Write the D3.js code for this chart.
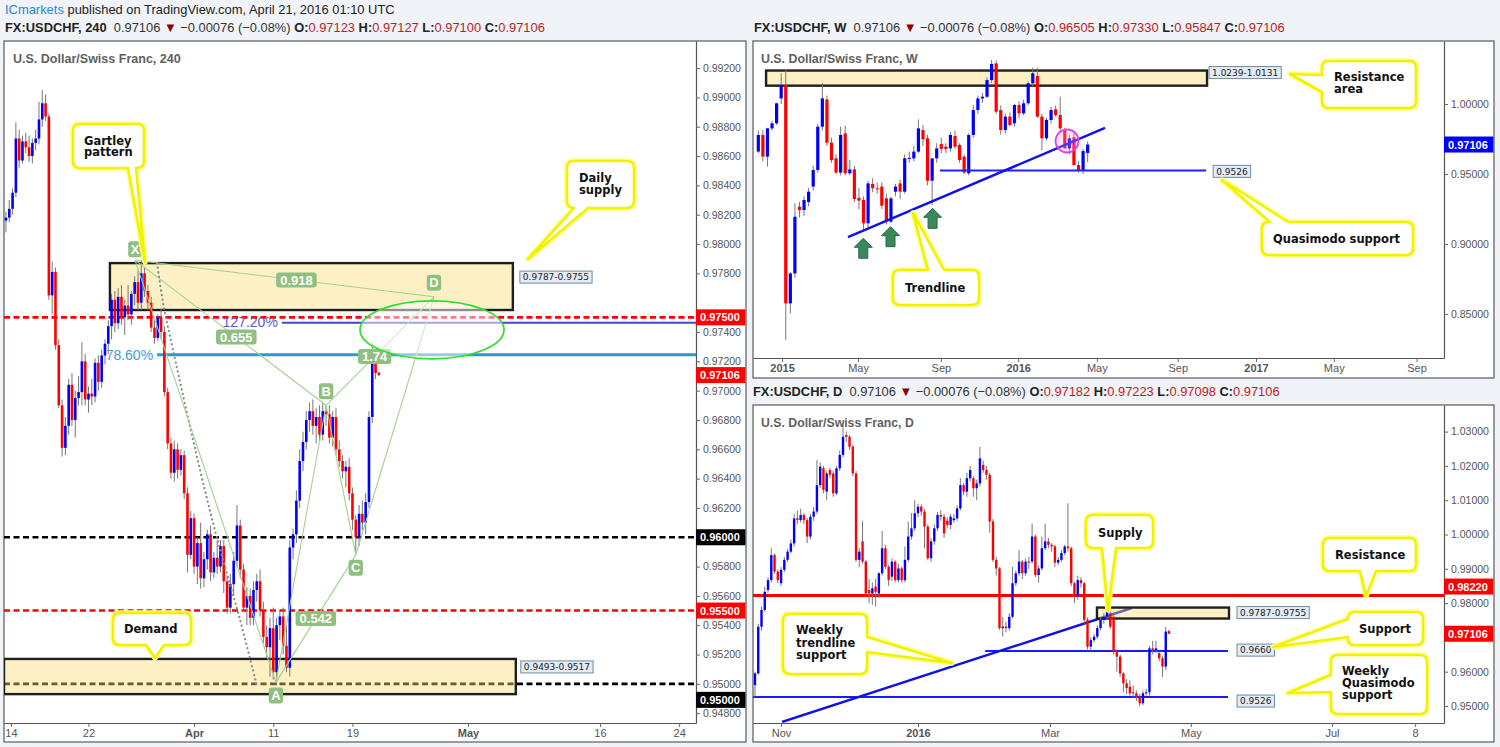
<!DOCTYPE html>
<html><head><meta charset="utf-8">
<script src="https://cdn.jsdelivr.net/npm/d3@7/dist/d3.min.js"></script>
<style>
html,body{margin:0;padding:0;background:#f0f3f7;}
svg{display:block;}
</style></head>
<body><svg id="chart" width="1500" height="747"></svg>
<script>
// ================= DATA =================
// 4H candles [open, high, low, close]
const h4Candles = [
[.9816,.9822,.9808,.9818],[.9818,.9830,.9815,.9824],[.9824,.9838,.9820,.9835],[.9835,.9883,.9832,.9872],
[.9872,.9878,.9852,.9857],[.9857,.9874,.9855,.9870],[.9870,.9876,.9862,.9866],[.9866,.9874,.9856,.9860],
[.9860,.9872,.9855,.9869],[.9869,.9878,.9864,.9872],[.9872,.9897,.9868,.9885],[.9885,.9905,.9880,.9896],
[.9896,.9902,.9884,.9887],[.9887,.9889,.9762,.9765],[.9765,.9788,.9752,.9781],[.9781,.9784,.9728,.9731],
[.9731,.9735,.9688,.9690],[.9690,.9694,.9655,.9661],[.9661,.9682,.9656,.9676],[.9676,.9708,.9670,.9704],
[.9704,.9712,.9676,.9680],[.9680,.9700,.9668,.9695],[.9695,.9710,.9690,.9699],[.9699,.9733,.9690,.9720],
[.9720,.9725,.9690,.9694],[.9694,.9703,.9685,.9698],[.9698,.9708,.9690,.9696],[.9696,.9722,.9692,.9719],
[.9719,.9724,.9700,.9706],[.9706,.9728,.9702,.9724],[.9724,.9735,.9718,.9732],[.9732,.9748,.9725,.9744],
[.9744,.9766,.9735,.9762],[.9762,.9768,.9740,.9746],[.9746,.9770,.9742,.9764],[.9764,.9772,.9745,.9750],
[.9750,.9762,.9738,.9758],[.9758,.9772,.9748,.9752],[.9752,.9768,.9745,.9766],[.9766,.9778,.9758,.9774],
[.9774,.9782,.9755,.9760],[.9760,.9789,.9755,.9780],[.9780,.9784,.9764,.9768],[.9768,.9772,.9755,.9760],
[.9760,.9764,.9740,.9743],[.9743,.9748,.9732,.9736],[.9736,.9752,.9734,.9750],[.9750,.9756,.9735,.9740],
[.9740,.9744,.9696,.9699],[.9699,.9702,.9660,.9664],[.9664,.9668,.9640,.9644],[.9644,.9666,.9638,.9660],
[.9660,.9664,.9640,.9646],[.9646,.9660,.9642,.9656],[.9656,.9659,.9626,.9630],[.9630,.9634,.9576,.9588],
[.9588,.9618,.9585,.9613],[.9613,.9616,.9575,.9580],[.9580,.9600,.9568,.9596],[.9596,.9610,.9565,.9572],
[.9572,.9590,.9566,.9585],[.9585,.9605,.9578,.9602],[.9602,.9608,.9570,.9576],[.9576,.9590,.9572,.9586],
[.9586,.9598,.9575,.9580],[.9580,.9598,.9576,.9594],[.9594,.9598,.9562,.9570],[.9570,.9574,.9548,.9552],
[.9552,.9575,.9548,.9568],[.9568,.9590,.9560,.9584],[.9584,.9622,.9580,.9608],[.9608,.9612,.9572,.9578],
[.9578,.9582,.9550,.9552],[.9552,.9566,.9540,.9560],[.9560,.9565,.9540,.9545],[.9545,.9570,.9540,.9564],
[.9564,.9575,.9556,.9570],[.9570,.9578,.9546,.9550],[.9550,.9556,.9528,.9532],[.9532,.9540,.9518,.9525],
[.9525,.9545,.9505,.9538],[.9538,.9552,.9503,.9508],[.9508,.9545,.9499,.9540],[.9540,.9550,.9530,.9546],
[.9546,.9552,.9520,.9526],[.9526,.9540,.9508,.9511],[.9511,.9598,.9505,.9593],[.9593,.9606,.9585,.9602],
[.9602,.9632,.9596,.9625],[.9625,.9660,.9620,.9652],[.9652,.9672,.9645,.9665],[.9665,.9686,.9660,.9680],
[.9680,.9692,.9672,.9686],[.9686,.9694,.9670,.9676],[.9676,.9688,.9664,.9682],[.9682,.9690,.9666,.9670],
[.9670,.9692,.9666,.9686],[.9686,.9690,.9676,.9684],[.9684,.9690,.9664,.9668],[.9668,.9686,.9662,.9682],
[.9682,.9688,.9656,.9660],[.9660,.9666,.9648,.9652],[.9652,.9656,.9640,.9645],[.9645,.9652,.9634,.9648],
[.9648,.9654,.9625,.9630],[.9630,.9634,.9605,.9612],[.9612,.9615,.9590,.9600],[.9600,.9622,.9594,.9616],
[.9616,.9625,.9605,.9610],[.9610,.9630,.9602,.9624],[.9624,.9686,.9620,.9682],[.9682,.9733,.9678,.9720],
[.9720,.9723,.9708,.9712],[.97123,.97127,.97100,.97106]
];
const h4XTickIdx = [1.5, 25, 57, 81, 105, 140, 180, 204];
const h4XTickLabels = ["14","22","Apr","11","19","May","16","24"];
const h4XTickBold = [0,0,1,0,0,1,0,0];
const h4YTicks = [0.992,0.990,0.988,0.986,0.984,0.982,0.980,0.978,0.974,0.972,0.970,0.968,0.966,0.964,0.962,0.958,0.956,0.954,0.952,0.950,0.948];
const h4RedLevels = [0.975, 0.955];
const h4BlackLevels = [0.960, 0.950];
const h4Supply = [0.9787, 0.9755], h4SupplyIdx = [31.5, 153.6];
const h4Demand = [0.9517, 0.9493], h4DemandIdx = [-0.6, 154.5];
const h4Fib1272 = 0.97463, h4Fib1272Idx = 83.6;
const h4Fib786 = 0.97245, h4Fib786Idx = 45.8;
const h4PatternNames = ["X","A","B","C","D"];
const h4PatternIdx = [39.1, 81.8, 97.0, 106.0, 129.7];
const h4PatternPrice = [0.9789, 0.9501, 0.9690, 0.9588, 0.9764];
const h4RatioLabels = ["0.655","0.918","1.74","0.542"];
const h4DottedIdx = [45.8, 47.6, 50.6, 58.8, 63.9, 70.9, 76.1];
const h4DottedPrice = [0.9787, 0.9760, 0.9728, 0.9646, 0.9600, 0.9544, 0.9498];
const h4EllipseIdx = 129.1, h4EllipsePrice = 0.97415;
const h4Badges = [[0.975,"#ff0000"],[0.97106,"#ff0000"],[0.960,"#000000"],[0.955,"#ff0000"],[0.950,"#000000"]];

// Weekly candles [open, high, low, close]
const wkCandles = [
[.9660,.9810,.9650,.9779],[.9779,.9814,.9590,.9624],[.9624,.9830,.9552,.9826],[.9826,.9880,.9810,.9862],
[.9862,1.0010,.9850,1.0005],[1.0040,1.0219,1.0000,1.0136],[1.0136,1.0243,.8314,.8576],[.8576,.8800,.8505,.8790],
[.8790,.9290,.8760,.9195],[.9267,.9300,.9190,.9243],[.9243,.9340,.9200,.9314],[.9300,.9400,.9270,.9374],
[.9410,.9560,.9380,.9529],[.9529,.9860,.9510,.9838],[.9838,1.0148,.9810,1.0040],[1.0033,1.0060,.9700,.9724],
[.9724,.9760,.9580,.9600],[.9612,.9640,.9500,.9510],[.9510,.9838,.9490,.9779],[.9790,.9845,.9490,.9505],
[.9505,.9600,.9490,.9533],[.9533,.9560,.9300,.9321],[.9330,.9400,.9250,.9310],[.9314,.9340,.9088,.9148],
[.9148,.9450,.9120,.9433],[.9429,.9470,.9370,.9398],[.9398,.9440,.9360,.9392],[.9410,.9440,.9250,.9274],
[.9326,.9360,.9140,.9171],[.9160,.9340,.9150,.9326],[.9374,.9430,.9340,.9410],[.9433,.9460,.9320,.9374],
[.9374,.9640,.9360,.9612],[.9612,.9660,.9580,.9615],[.9612,.9700,.9590,.9660],[.9660,.9890,.9650,.9826],
[.9814,.9850,.9700,.9748],[.9755,.9780,.9420,.9452],[.9452,.9560,.9279,.9612],[.9612,.9720,.9580,.9683],
[.9714,.9760,.9650,.9679],[.9695,.9720,.9650,.9679],[.9683,.9800,.9660,.9779],[.9771,.9810,.9680,.9695],
[.9707,.9720,.9580,.9600],[.9624,.9640,.9500,.9510],[.9505,.9790,.9490,.9779],[.9779,.9990,.9760,.9957],
[.9957,1.0060,.9930,1.0040],[1.0040,1.0080,1.0010,1.0052],[1.0052,1.0190,1.0040,1.0171],[1.0171,1.0314,1.0150,1.0286],
[1.0290,1.0310,.9930,.9945],[.9957,.9990,.9780,.9814],[.9814,.9930,.9790,.9910],[.9910,.9940,.9840,.9850],
[.9862,1.0000,.9840,.9993],[.9993,1.0020,.9900,.9933],[.9933,1.0030,.9920,1.0005],[1.0005,1.0160,.9990,1.0148],
[1.0148,1.0260,1.0120,1.0219],[1.0200,1.0260,.9900,.9910],[.9910,.9930,.9670,.9755],[.9755,.9900,.9740,.9886],
[.9886,.9980,.9860,.9957],[.9962,.9990,.9910,.9921],[.9921,1.0052,.9800,.9826],[.9814,.9830,.9680,.9683],
[.9683,.9780,.9640,.9755],[.9762,.9790,.9560,.9564],[.9564,.9590,.9510,.9529],[.9524,.9680,.9500,.9664],
[.96505,.97330,.95847,.97106]
];
const wkXTickIdx = [5.2, 21.8, 39.9, 56.8, 74.0, 91.7, 108.8, 125.8, 143.9];
const wkXTickLabels = ["2015","May","Sep","2016","May","Sep","2017","May","Sep"];
const wkXTickBold = [1,0,0,1,0,0,1,0,0];
const wkYTicks = [1.00, 0.95, 0.90, 0.85];
const wkResZone = [1.0239, 1.0131], wkResZoneIdx = [1.7, 98.1];
const wkQmLevel = 0.9526, wkQmIdx = [39.7, 97.9];
const wkTrendIdx = [19.6, 75.8], wkTrendPrice = [0.9050, 0.9829];
const wkArrowIdx = [22.95, 28.9, 38.1], wkArrowPrice = [0.9041, 0.9124, 0.9255];
const wkCircleIdx = 67.5, wkCirclePrice = 0.97357;
const wkBadges = [[0.97106,"#0000ff"]];

// Daily candles [open, high, low, close]
const dCandles = [
[.9561,.9600,.9527,.9595],[.9595,.9740,.9590,.9731],[.9731,.9790,.9720,.9780],[.9780,.9848,.9775,.9833],
[.9838,.9875,.9830,.9867],[.9867,.9960,.9860,.9940],[.9940,.9945,.9885,.9892],[.9892,.9898,.9858,.9867],
[.9858,.9905,.9850,.9897],[.9897,.9935,.9890,.9926],[.9926,.9958,.9920,.9950],[.9950,.9985,.9945,.9974],
[.9974,1.0060,.9965,1.0047],[1.0047,1.0070,1.0030,1.0042],[1.0042,1.0075,1.0035,1.0057],[1.0057,1.0062,1.0030,1.0042],
[1.0042,1.0048,.9975,.9994],[.9994,1.0060,.9985,1.0052],[1.0052,1.0080,1.0040,1.0067],[1.0067,1.0217,1.0060,1.0144],
[1.0144,1.0210,1.0135,1.0198],[1.0193,1.0200,1.0120,1.0130],[1.0125,1.0185,1.0100,1.0178],[1.0188,1.0195,1.0165,1.0174],
[1.0178,1.0185,1.0110,1.0120],[1.0120,1.0200,1.0115,1.0193],[1.0193,1.0245,1.0185,1.0232],[1.0232,1.0324,1.0225,1.0285],
[1.0290,1.0300,1.0270,1.0285],[1.0285,1.0290,1.0245,1.0256],[1.0256,1.0262,1.0170,1.0178],[1.0178,1.0185,.9920,.9926],
[.9926,.9960,.9905,.9950],[.9980,1.0040,.9915,.9921],[.9921,.9925,.9820,.9828],[.9838,.9870,.9800,.9828],
[.9828,.9860,.9795,.9843],[.9848,.9870,.9790,.9833],[.9828,.9890,.9815,.9887],[.9887,1.0010,.9880,.9960],
[.9960,.9970,.9900,.9906],[.9906,.9912,.9850,.9867],[.9877,.9930,.9865,.9921],[.9921,.9925,.9860,.9867],
[.9867,.9915,.9860,.9901],[.9901,.9906,.9860,.9867],[.9867,.9965,.9860,.9926],[.9926,1.0038,.9920,.9994],
[.9994,1.0062,.9985,1.0018],[1.0018,1.0100,1.0010,1.0062],[1.0062,1.0090,1.0050,1.0081],[1.0081,1.0088,1.0055,1.0067],
[1.0067,1.0075,.9960,1.0023],[1.0023,1.0030,.9925,.9931],[.9931,.9990,.9920,.9980],[.9980,1.0030,.9970,1.0018],
[1.0018,1.0065,1.0010,1.0057],[1.0057,1.0070,1.0040,1.0052],[1.0052,1.0060,.9990,1.0003],[1.0040,1.0050,1.0020,1.0028],
[1.0028,1.0060,1.0015,1.0052],[1.0042,1.0060,1.0035,1.0047],[1.0047,1.0085,1.0040,1.0076],[1.0076,1.0164,1.0070,1.0144],
[1.0144,1.0150,1.0115,1.0125],[1.0125,1.0180,1.0110,1.0164],[1.0164,1.0200,1.0155,1.0188],[1.0164,1.0170,1.0110,1.0135],
[1.0135,1.0160,1.0100,1.0149],[1.0149,1.0256,1.0140,1.0222],[1.0203,1.0215,1.0180,1.0188],[1.0188,1.0200,1.0160,1.0174],
[1.0174,1.0180,1.0005,1.0038],[1.0038,1.0045,.9920,.9926],[.9926,.9935,.9880,.9901],[.9901,.9905,.9722,.9727],
[.9727,.9760,.9702,.9731],[.9731,.9745,.9715,.9727],[.9727,.9770,.9720,.9760],[.9760,.9906,.9755,.9858],
[.9858,.9895,.9850,.9887],[.9887,.9955,.9880,.9921],[.9921,.9925,.9870,.9887],[.9887,.9930,.9880,.9921],
[.9921,.9935,.9900,.9918],[.9921,1.0032,.9915,.9994],[.9994,1.0000,.9875,.9882],[.9882,.9910,.9860,.9901],
[.9901,.9994,.9895,.9960],[.9960,1.0032,.9955,.9980],[.9980,.9990,.9960,.9970],[.9970,.9975,.9950,.9965],
[.9965,.9970,.9905,.9918],[.9918,.9935,.9910,.9926],[.9926,.9955,.9920,.9946],[.9946,.9970,.9940,.9965],
[.9965,1.0091,.9950,.9960],[.9960,.9965,.9850,.9858],[.9858,.9862,.9800,.9819],[.9819,.9880,.9810,.9867],
[.9867,.9875,.9845,.9858],[.9858,.9862,.9740,.9751],[.9751,.9758,.9665,.9673],[.9673,.9700,.9660,.9692],
[.9692,.9710,.9685,.9702],[.9702,.9735,.9695,.9727],[.9727,.9760,.9720,.9751],[.9751,.9770,.9740,.9760],
[.9760,.9790,.9752,.9780],[.9770,.9775,.9725,.9731],[.9760,.9765,.9650,.9658],[.9658,.9665,.9600,.9644],
[.9644,.9650,.9585,.9595],[.9595,.9600,.9540,.9566],[.9566,.9578,.9535,.9552],[.9556,.9575,.9530,.9537],
[.9540,.9560,.9525,.9537],[.9537,.9545,.9515,.9527],[.9527,.9535,.9500,.9508],[.9508,.9545,.9503,.9537],
[.9537,.9550,.9530,.9540],[.9540,.9675,.9530,.9668],[.9668,.9690,.9650,.9663],[.9663,.9690,.9655,.9668],
[.9654,.9660,.9630,.9639],[.9639,.9645,.9585,.9615],[.9615,.9730,.9605,.9717],[.97182,.97223,.97098,.97106]
];
const dXTickIdx = [8.0, 50.0, 90.5, 133.7, 177.0, 202.5];
const dXTickLabels = ["Nov","2016","Mar","May","Jul","8"];
const dXTickBold = [0,1,0,0,0,0];
const dYTicks = [1.03,1.02,1.01,1.00,0.99,0.98,0.96,0.95];
const dResistance = 0.9822;
const dSupply = [0.9787, 0.9755], dSupplyIdx = [104.9, 145.4];
const dSupport = 0.9660, dSupportIdx = [70.6, 145.1];
const dQm = 0.9526, dQmIdx = [-0.6, 145.1];
const dTrendIdx = [8.3, 115.6], dTrendPrice = [0.94534, 0.97857];
const dBadges = [[0.9822,"#ff0000"],[0.97106,"#ff0000"]];

// ================= DRAWING =================
const FONT = "'Liberation Sans', Arial, sans-serif";
const CFONT = "'DejaVu Sans', Verdana, sans-serif";
const svg = d3.select("#chart");
svg.append("rect").attr("width",1500).attr("height",747).attr("fill","#f0f3f7");
const defs = svg.append("defs");

function fitText(x, y, width, parts, size) {
  const t = svg.append("text").attr("x",0).attr("y",0)
    .style("font-family",FONT).style("font-size",size+"px").style("white-space","pre");
  parts.forEach(p => t.append("tspan").text(p.t).attr("fill",p.c||"#222")
    .style("font-weight",p.b?"bold":"normal"));
  const w = t.node().getBBox().width;
  t.attr("transform",`translate(${x},${y}) scale(${width/w},1)`);
}

function makePanel(o) {
  const g = svg.append("g");
  g.append("rect").attr("x",o.fx0).attr("y",o.fy0).attr("width",o.fx1-o.fx0).attr("height",o.fy1-o.fy0)
    .attr("fill","#fff").attr("stroke","#5a5a5a").attr("stroke-width",1.2);
  const x = d3.scaleLinear().domain(o.xd).range([o.px0,o.px1]);
  const y = d3.scaleLinear().domain(o.yd).range([o.py1,o.py0]);
  defs.append("clipPath").attr("id","clip"+o.name).append("rect")
    .attr("x",o.px0).attr("y",o.py0).attr("width",o.px1-o.px0).attr("height",o.py1-o.py0);
  const plot = g.append("g").attr("clip-path",`url(#clip${o.name})`);
  const top = svg.append("g");
  return {g, plot, top, x, y, o};
}

function drawCandles(P, data, bw) {
  const cg = P.plot.append("g");
  cg.selectAll("line").data(data).join("line")
    .attr("x1",(d,i)=>P.x(i)).attr("x2",(d,i)=>P.x(i))
    .attr("y1",d=>P.y(d[1])).attr("y2",d=>P.y(d[2]))
    .attr("stroke","#777").attr("stroke-width",1);
  cg.selectAll("rect").data(data).join("rect")
    .attr("x",(d,i)=>P.x(i)-bw/2).attr("width",bw)
    .attr("y",d=>P.y(Math.max(d[0],d[3])))
    .attr("height",d=>Math.max(1,Math.abs(P.y(d[0])-P.y(d[3]))))
    .attr("fill",d=>d[3]>=d[0]?"#0000ff":"#ff0000");
}

function drawAxes(P, yTicks, xIdx, xLabels, xBold) {
  const o = P.o;
  const ya = P.top.append("g").attr("transform",`translate(${o.px1},0)`)
    .call(d3.axisRight(P.y).tickValues(yTicks).tickFormat(d3.format(".5f")).tickSize(4).tickPadding(3).tickSizeOuter(0));
  const xa = P.top.append("g").attr("transform",`translate(0,${o.py1})`)
    .call(d3.axisBottom(P.x).tickValues(xIdx).tickFormat((d,i)=>xLabels[i]).tickSize(4).tickPadding(2).tickSizeOuter(0));
  [ya,xa].forEach(a=>{
    a.select(".domain").attr("stroke","#555").attr("stroke-width",1.2);
    a.selectAll(".tick line").attr("stroke","#666");
    a.selectAll(".tick text").attr("fill","#555").style("font-family",FONT).style("font-size","10.5px");
  });
  xa.selectAll(".tick text").style("font-size","11px").style("font-weight",(d,i)=>xBold[i]?"bold":"normal");
}

function drawBadge(P, value, color, nudge) {
  const o = P.o, cy = P.y(value) + (nudge||0);
  P.top.append("rect").attr("x",o.px1).attr("y",cy-8).attr("width",o.fx1-o.px1-0.6).attr("height",16).attr("fill",color);
  P.top.append("text").attr("x",o.px1+4).attr("y",cy+4).text(d3.format(".5f")(value))
    .attr("fill","#fff").style("font-weight","bold").style("font-size","11px").style("font-family",FONT);
}

function hline(P, v, i0, i1, color, w, dash) {
  const l = P.plot.append("line").attr("x1",P.x(i0)).attr("x2",P.x(i1)).attr("y1",P.y(v)).attr("y2",P.y(v))
    .attr("stroke",color).attr("stroke-width",w);
  if (dash) l.attr("stroke-dasharray",dash);
  return l;
}

function zone(P, top, bot, i0, i1) {
  P.plot.append("rect").attr("x",P.x(i0)).attr("y",P.y(top)).attr("width",P.x(i1)-P.x(i0))
    .attr("height",P.y(bot)-P.y(top)).attr("fill","rgba(250,219,114,0.42)")
    .attr("stroke","#1e1e1e").attr("stroke-width",2.4);
}

function boxLabel(g, xl, yc, text) {
  const r = g.append("rect");
  const t = g.append("text").attr("x",xl+3).attr("y",yc+3.3).text(text).attr("fill","#222")
    .style("font-family",CFONT).style("font-size","9px");
  const w = t.node().getComputedTextLength();
  r.attr("x",xl).attr("y",yc-6).attr("width",w+6).attr("height",12)
    .attr("fill","#e3ecf4").attr("stroke","#6f8aa3").attr("stroke-width",1);
}

function tag(g, cx, cy, text, padX, h) {
  const r = g.append("rect").attr("rx",3).attr("fill","#8fc07f");
  const t = g.append("text").attr("x",cx).attr("y",cy+4.6).attr("text-anchor","middle").text(text)
    .attr("fill","#fff").style("font-family",FONT).style("font-weight","bold").style("font-size","13px");
  const w = t.node().getComputedTextLength() + padX*2;
  r.attr("x",cx-w/2).attr("y",cy-h/2).attr("width",w).attr("height",h);
}

function callout(g, box, edge, b0, b1, tip, lines, tx, ty, lh) {
  const [x0,y0,x1,y1] = box, r = 7;
  let p = `M${x0+r},${y0}`;
  if (edge==="top") p += `L${b0},${y0}L${tip[0]},${tip[1]}L${b1},${y0}`;
  p += `L${x1-r},${y0}Q${x1},${y0} ${x1},${y0+r}`;
  if (edge==="right") p += `L${x1},${b0}L${tip[0]},${tip[1]}L${x1},${b1}`;
  p += `L${x1},${y1-r}Q${x1},${y1} ${x1-r},${y1}`;
  if (edge==="bottom") p += `L${b1},${y1}L${tip[0]},${tip[1]}L${b0},${y1}`;
  p += `L${x0+r},${y1}Q${x0},${y1} ${x0},${y1-r}`;
  if (edge==="left") p += `L${x0},${b1}L${tip[0]},${tip[1]}L${x0},${b0}`;
  p += `L${x0},${y0+r}Q${x0},${y0} ${x0+r},${y0}Z`;
  g.append("path").attr("d",p).attr("fill","none").attr("stroke","#ffff8a").attr("stroke-width",5.5).attr("stroke-linejoin","round");
  g.append("path").attr("d",p).attr("fill","#fff").attr("stroke","#f2f200").attr("stroke-width",2.6).attr("stroke-linejoin","round");
  lines.forEach((s,k)=> g.append("text").attr("x",tx).attr("y",ty+k*lh).text(s).attr("fill","#111")
    .style("font-family",CFONT).style("font-weight","bold").style("font-size","11.5px"));
}

// ---------- Headers ----------
fitText(5, 14, 390, [{t:"ICmarkets",c:"#2a88d0"},{t:" published on TradingView.com, April 21, 2016 01:10 UTC",c:"#222"}], 13);
function ohlcParts(tf, o, h, l, c) {
  const R = "#c41a1a";
  return [{t:"FX:USDCHF, "+tf,b:1},{t:"  0.97106 ",c:"#333"},{t:"▼",c:"#8b0000"},{t:" −0.00076 (−0.08%) ",c:"#333"},
    {t:"O:",b:1},{t:o,c:R},{t:" H:",b:1},{t:h,c:R},{t:" L:",b:1},{t:l,c:R},{t:" C:",b:1},{t:c,c:R}];
}
fitText(5, 32, 540, ohlcParts("240","0.97123","0.97127","0.97100","0.97106"), 13);
fitText(754, 32, 531, ohlcParts("W","0.96505","0.97330","0.95847","0.97106"), 13);
fitText(753, 396, 527, ohlcParts("D","0.97182","0.97223","0.97098","0.97106"), 13);

// ---------- Panel 1 : 4H ----------
const P1 = makePanel({name:"h4", fx0:4, fy0:41, fx1:746, fy1:742, px0:4, px1:696, py0:41, py1:723,
  xd:[-0.6, 209.1], yd:[0.94733, 0.99385]});
const x1max = P1.x.domain()[1], x1min = P1.x.domain()[0];
h4RedLevels.forEach(v => hline(P1, v, x1min, x1max, "#ff0000", 2.6, "6,3.5"));
h4BlackLevels.forEach(v => hline(P1, v, x1min, x1max, "#000", 2.6, "6,3.5"));
hline(P1, h4Fib1272, h4Fib1272Idx, x1max, "#4646c6", 2);
hline(P1, h4Fib786, h4Fib786Idx, x1max, "#2f98d2", 3);
zone(P1, h4Supply[0], h4Supply[1], h4SupplyIdx[0], h4SupplyIdx[1]);
zone(P1, h4Demand[0], h4Demand[1], h4DemandIdx[0], h4DemandIdx[1]);
drawCandles(P1, h4Candles, 2.6);
// dotted curve
P1.plot.append("path")
  .attr("d", d3.line().x((d,i)=>P1.x(d)).y((d,i)=>P1.y(h4DottedPrice[i])).curve(d3.curveCatmullRom)(h4DottedIdx))
  .attr("fill","none").attr("stroke","#8a8a8a").attr("stroke-width",2.2).attr("stroke-linecap","round").attr("stroke-dasharray","0.1,4.5");
// XABCD pattern
const pts = h4PatternIdx.map((d,k)=>[P1.x(d), P1.y(h4PatternPrice[k])]);
[[0,1],[1,2],[2,3],[3,4],[0,2],[1,3],[2,4],[0,4]].forEach(([a,b])=>{
  P1.plot.append("line").attr("x1",pts[a][0]).attr("y1",pts[a][1]).attr("x2",pts[b][0]).attr("y2",pts[b][1])
    .attr("stroke","#a3d18f").attr("stroke-width",1.1);
});
const ratioPairs = [[0,2],[0,4],[2,4],[1,3]];
const ratioT = [0.53, 0.54, 0.45, 0.5];
ratioPairs.forEach(([a,b],k)=>{
  const cx = pts[a][0]+(pts[b][0]-pts[a][0])*ratioT[k], cy = pts[a][1]+(pts[b][1]-pts[a][1])*ratioT[k];
  tag(P1.plot, cx, cy, h4RatioLabels[k], 4, 15);
});
const letterDy = [-11, 13, -14, 13, -14];
pts.forEach((p,k)=> tag(P1.plot, p[0], p[1]+letterDy[k], h4PatternNames[k], 2.5, 16));
// ellipse
P1.plot.append("ellipse").attr("cx",P1.x(h4EllipseIdx)).attr("cy",P1.y(h4EllipsePrice)).attr("rx",72).attr("ry",29)
  .attr("fill","rgba(255,255,255,0.5)").attr("stroke","#2ee02e").attr("stroke-width",1.7);
// fib labels
P1.top.append("text").attr("x",P1.x(h4Fib1272Idx)-4).attr("y",P1.y(h4Fib1272)+4).attr("text-anchor","end").text("127.20%")
  .attr("fill","#5a5acc").style("font-family",FONT).style("font-size","14px");
P1.top.append("text").attr("x",P1.x(h4Fib786Idx)-4).attr("y",P1.y(h4Fib786)+5).attr("text-anchor","end").text("78.60%")
  .attr("fill","#3d9ed6").style("font-family",FONT).style("font-size","14px");
boxLabel(P1.top, P1.x(h4SupplyIdx[1])+7, P1.y(h4Supply[0])+14, "0.9787-0.9755");
boxLabel(P1.top, P1.x(h4DemandIdx[1])+5, P1.y(h4Demand[0])+8, "0.9493-0.9517");
callout(P1.top, [73,124,144,168], "bottom", 128, 136, [145,262], ["Gartley","pattern"], 84, 145, 11);
callout(P1.top, [567,161,634,208], "bottom", 574, 588, [528,259], ["Daily","supply"], 579, 182, 12);
callout(P1.top, [113,613,191,645], "bottom", 146, 164, [155,658], ["Demand"], 124, 633, 11);
drawAxes(P1, h4YTicks, h4XTickIdx, h4XTickLabels, h4XTickBold);
h4Badges.forEach(([v,c])=> drawBadge(P1, v, c, v===0.95 ? 16 : 0));
fitText(13, 63, 168, [{t:"U.S. Dollar/Swiss Franc, 240",c:"#5f5f5f",b:1}], 12.5);

// ---------- Panel 2 : Weekly ----------
const P2 = makePanel({name:"wk", fx0:753, fy0:41, fx1:1494, fy1:378, px0:753, px1:1444, py0:41, py1:358,
  xd:[-1.16, 149.9], yd:[0.8186, 1.0450]});
zone(P2, wkResZone[0], wkResZone[1], wkResZoneIdx[0], wkResZoneIdx[1]);
drawCandles(P2, wkCandles, 3.2);
hline(P2, wkQmLevel, wkQmIdx[0], wkQmIdx[1], "#2020ff", 2);
P2.plot.append("line").attr("x1",P2.x(wkTrendIdx[0])).attr("y1",P2.y(wkTrendPrice[0]))
  .attr("x2",P2.x(wkTrendIdx[1])).attr("y2",P2.y(wkTrendPrice[1])).attr("stroke","#1010e8").attr("stroke-width",2.4);
P2.plot.append("circle").attr("cx",P2.x(wkCircleIdx)).attr("cy",P2.y(wkCirclePrice)).attr("r",11.5)
  .attr("fill","rgba(255,160,255,0.25)").attr("stroke","#e53ee5").attr("stroke-width",1.8);
wkArrowIdx.forEach((d,k)=>{
  const ax = P2.x(d), ay = P2.y(wkArrowPrice[k]);
  P2.plot.append("path").attr("transform",`translate(${ax},${ay})`)
    .attr("d","M0,0L9,9L4.5,9L4.5,20L-4.5,20L-4.5,9L-9,9Z")
    .attr("fill","#3a895b").attr("stroke","#2a6a44").attr("stroke-width",1).attr("stroke-linejoin","round");
});
boxLabel(P2.top, P2.x(wkResZoneIdx[1])+2, P2.y(wkResZone[0])+2, "1.0239-1.0131");
boxLabel(P2.top, P2.x(wkQmIdx[1])+7, P2.y(wkQmLevel)+1, "0.9526");
callout(P2.top, [893,270,979,305], "top", 928, 944, [913,213], ["Trendline"], 905, 292, 11);
callout(P2.top, [1322,61,1416,108], "left", 75, 92, [1290,74], ["Resistance","area"], 1334, 81, 12);
callout(P2.top, [1262,222,1413,255], "top", 1270, 1288, [1222,180], ["Quasimodo support"], 1273, 243, 11);
drawAxes(P2, wkYTicks, wkXTickIdx, wkXTickLabels, wkXTickBold);
wkBadges.forEach(([v,c])=> drawBadge(P2, v, c, 0));
fitText(761, 63, 157, [{t:"U.S. Dollar/Swiss Franc, W",c:"#5f5f5f",b:1}], 12.5);

// ---------- Panel 3 : Daily ----------
const P3 = makePanel({name:"d", fx0:753, fy0:405, fx1:1494, fy1:742, px0:753, px1:1444, py0:405, py1:723,
  xd:[-0.61, 211.35], yd:[0.94504, 1.03776]});
hline(P3, dResistance, P3.x.domain()[0], P3.x.domain()[1], "#ff0000", 3);
hline(P3, dSupport, dSupportIdx[0], dSupportIdx[1], "#1a1aff", 2);
hline(P3, dQm, dQmIdx[0], dQmIdx[1], "#1a1aff", 2);
P3.plot.append("line").attr("x1",P3.x(dTrendIdx[0])).attr("y1",P3.y(dTrendPrice[0]))
  .attr("x2",P3.x(dTrendIdx[1])).attr("y2",P3.y(dTrendPrice[1])).attr("stroke","#1010e8").attr("stroke-width",2.4);
zone(P3, dSupply[0], dSupply[1], dSupplyIdx[0], dSupplyIdx[1]);
drawCandles(P3, dCandles, 2.4);
boxLabel(P3.top, P3.x(dSupplyIdx[1])+8, P3.y(dSupply[0])+5, "0.9787-0.9755");
boxLabel(P3.top, P3.x(dSupportIdx[1])+9, P3.y(dSupport)-1, "0.9660");
boxLabel(P3.top, P3.x(dQmIdx[1])+9, P3.y(dQm)+4, "0.9526");
callout(P3.top, [1086,515,1153,548], "bottom", 1102, 1116, [1108,610], ["Supply"], 1098, 537, 11);
callout(P3.top, [1323,538,1416,571], "bottom", 1360, 1376, [1366,596], ["Resistance"], 1335, 559, 11);
callout(P3.top, [1348,612,1423,645], "left", 619, 637, [1273,647], ["Support"], 1359, 633, 11);
callout(P3.top, [1331,655,1427,714], "left", 675, 692, [1288,693], ["Weekly","Quasimodo","support"], 1342, 675, 12);
callout(P3.top, [783,614,867,674], "right", 637, 652, [952,663], ["Weekly","trendline","support"], 796, 634, 12.5);
drawAxes(P3, dYTicks, dXTickIdx, dXTickLabels, dXTickBold);
dBadges.forEach(([v,c])=> drawBadge(P3, v, c, v===0.9822 ? -9 : 0));
fitText(761, 427, 153, [{t:"U.S. Dollar/Swiss Franc, D",c:"#5f5f5f",b:1}], 12.5);
</script>
</body></html>
